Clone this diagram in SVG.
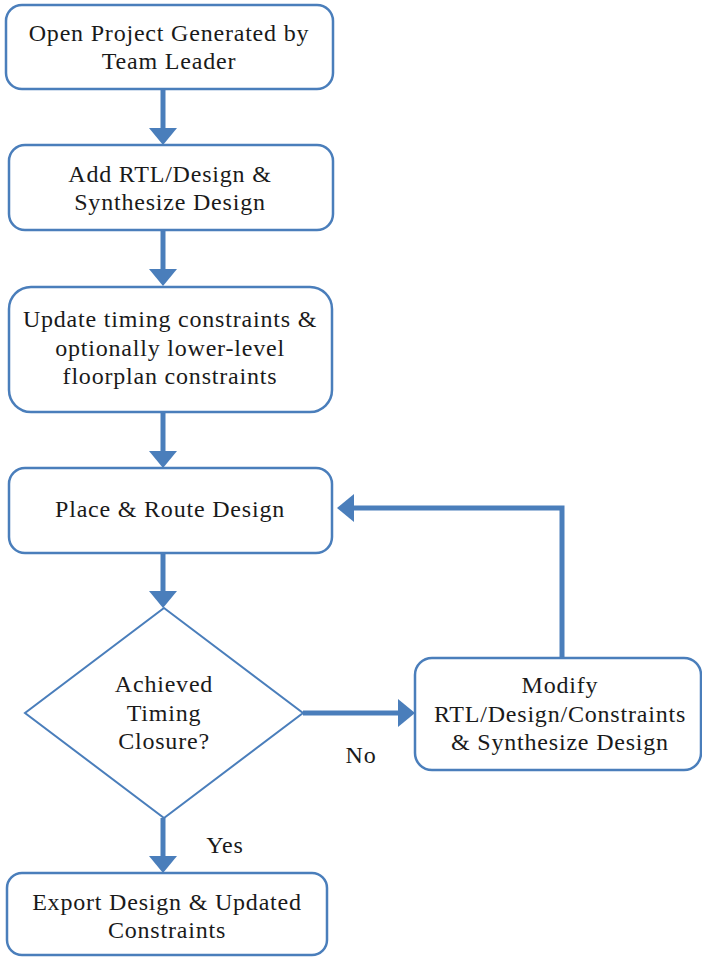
<svg xmlns="http://www.w3.org/2000/svg" width="702" height="957" viewBox="0 0 702 957">
<style>
.box{fill:#fff;stroke:#4a7ebb;stroke-width:2.5}
.dia{fill:#fff;stroke:#4a7ebb;stroke-width:2}
.t{font-family:"Liberation Serif","Times New Roman",serif;font-size:24px;letter-spacing:0.8px;fill:#1a1a1a;text-anchor:middle}
.c{fill:none;stroke:#4a7ebb;stroke-width:5;marker-end:url(#ah)}
</style>
<defs>
<marker id="ah" viewBox="0 0 17 28" refX="0" refY="14" markerWidth="17" markerHeight="28" markerUnits="userSpaceOnUse" orient="auto">
<path d="M0,0 L17,14 L0,28 z" fill="#4a7ebb"/>
</marker>
</defs>
<g id="connectors">
<path class="c" d="M163,89 V128"/>
<path class="c" d="M163,230 V269"/>
<path class="c" d="M163,412 V451"/>
<path class="c" d="M163,553 V591"/>
<path class="c" d="M303,713 H398"/>
<path class="c" d="M163,818 V856"/>
<path class="c" d="M562,658 V508 H354"/>
<text class="t" x="361" y="763">No</text>
<text class="t" x="225" y="853">Yes</text>
</g>
<g id="n1">
<rect class="box" x="6" y="5" width="327" height="84" rx="16"/>
<text class="t" x="169" y="41">Open Project Generated by</text>
<text class="t" x="169" y="69">Team Leader</text>
</g>
<g id="n2">
<rect class="box" x="9" y="145" width="324" height="85" rx="16"/>
<text class="t" x="170" y="182">Add RTL/Design &amp;</text>
<text class="t" x="170" y="210">Synthesize Design</text>
</g>
<g id="n3">
<rect class="box" x="9" y="287" width="323" height="125" rx="22"/>
<text class="t" x="170" y="327">Update timing constraints &amp;</text>
<text class="t" x="170" y="356">optionally lower-level</text>
<text class="t" x="170" y="384">floorplan constraints</text>
</g>
<g id="n4">
<rect class="box" x="9" y="468" width="323" height="85" rx="16"/>
<text class="t" x="170" y="517">Place &amp; Route Design</text>
</g>
<g id="n5">
<polygon class="dia" points="164,608 303,713 164,818 25,713"/>
<text class="t" x="164" y="692">Achieved</text>
<text class="t" x="164" y="721">Timing</text>
<text class="t" x="164" y="749">Closure?</text>
</g>
<g id="n6">
<rect class="box" x="415" y="658" width="286" height="112" rx="17"/>
<text class="t" x="560" y="693">Modify</text>
<text class="t" x="560" y="722">RTL/Design/Constraints</text>
<text class="t" x="560" y="750">&amp; Synthesize Design</text>
</g>
<g id="n7">
<rect class="box" x="7" y="873" width="320" height="82" rx="15"/>
<text class="t" x="167" y="910">Export Design &amp; Updated</text>
<text class="t" x="167" y="938">Constraints</text>
</g>
</svg>
